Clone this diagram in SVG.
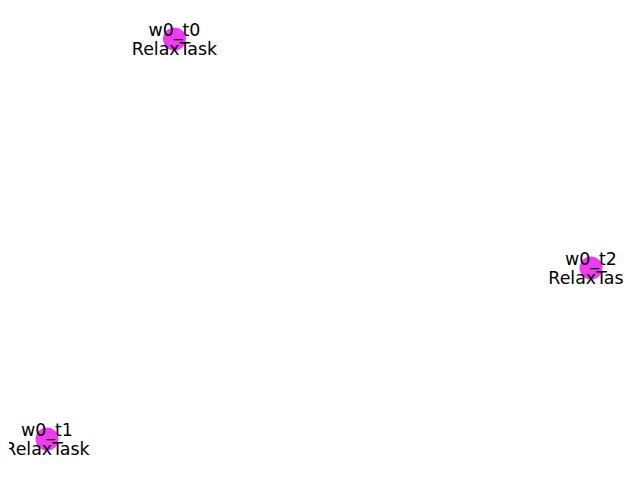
<svg xmlns="http://www.w3.org/2000/svg" width="640" height="480" viewBox="0 0 640 480">
<style>
.node circle{fill:#f03cf0;}
.node text{font-family:"DejaVu Sans",sans-serif;font-size:17.4px;fill:#000;text-anchor:middle;}
</style>
<defs>
<clipPath id="ax"><rect x="9" y="0" width="615" height="480"/></clipPath>
</defs>
<rect width="640" height="480" fill="#fff"/>
<g id="connectors"></g>
<g clip-path="url(#ax)">
<g id="w0_t0" class="node">
<circle cx="174.5" cy="39" r="11.5"/>
<text x="174.5" y="36">w0_t0</text>
<text x="174.5" y="55">RelaxTask</text>
</g>
<g id="w0_t2" class="node">
<circle cx="591" cy="268" r="11.5"/>
<text x="591" y="265">w0_t2</text>
<text x="591" y="284">RelaxTask</text>
</g>
<g id="w0_t1" class="node">
<circle cx="47" cy="439" r="11.5"/>
<text x="47" y="436">w0_t1</text>
<text x="47" y="455">RelaxTask</text>
</g>
</g>
</svg>
